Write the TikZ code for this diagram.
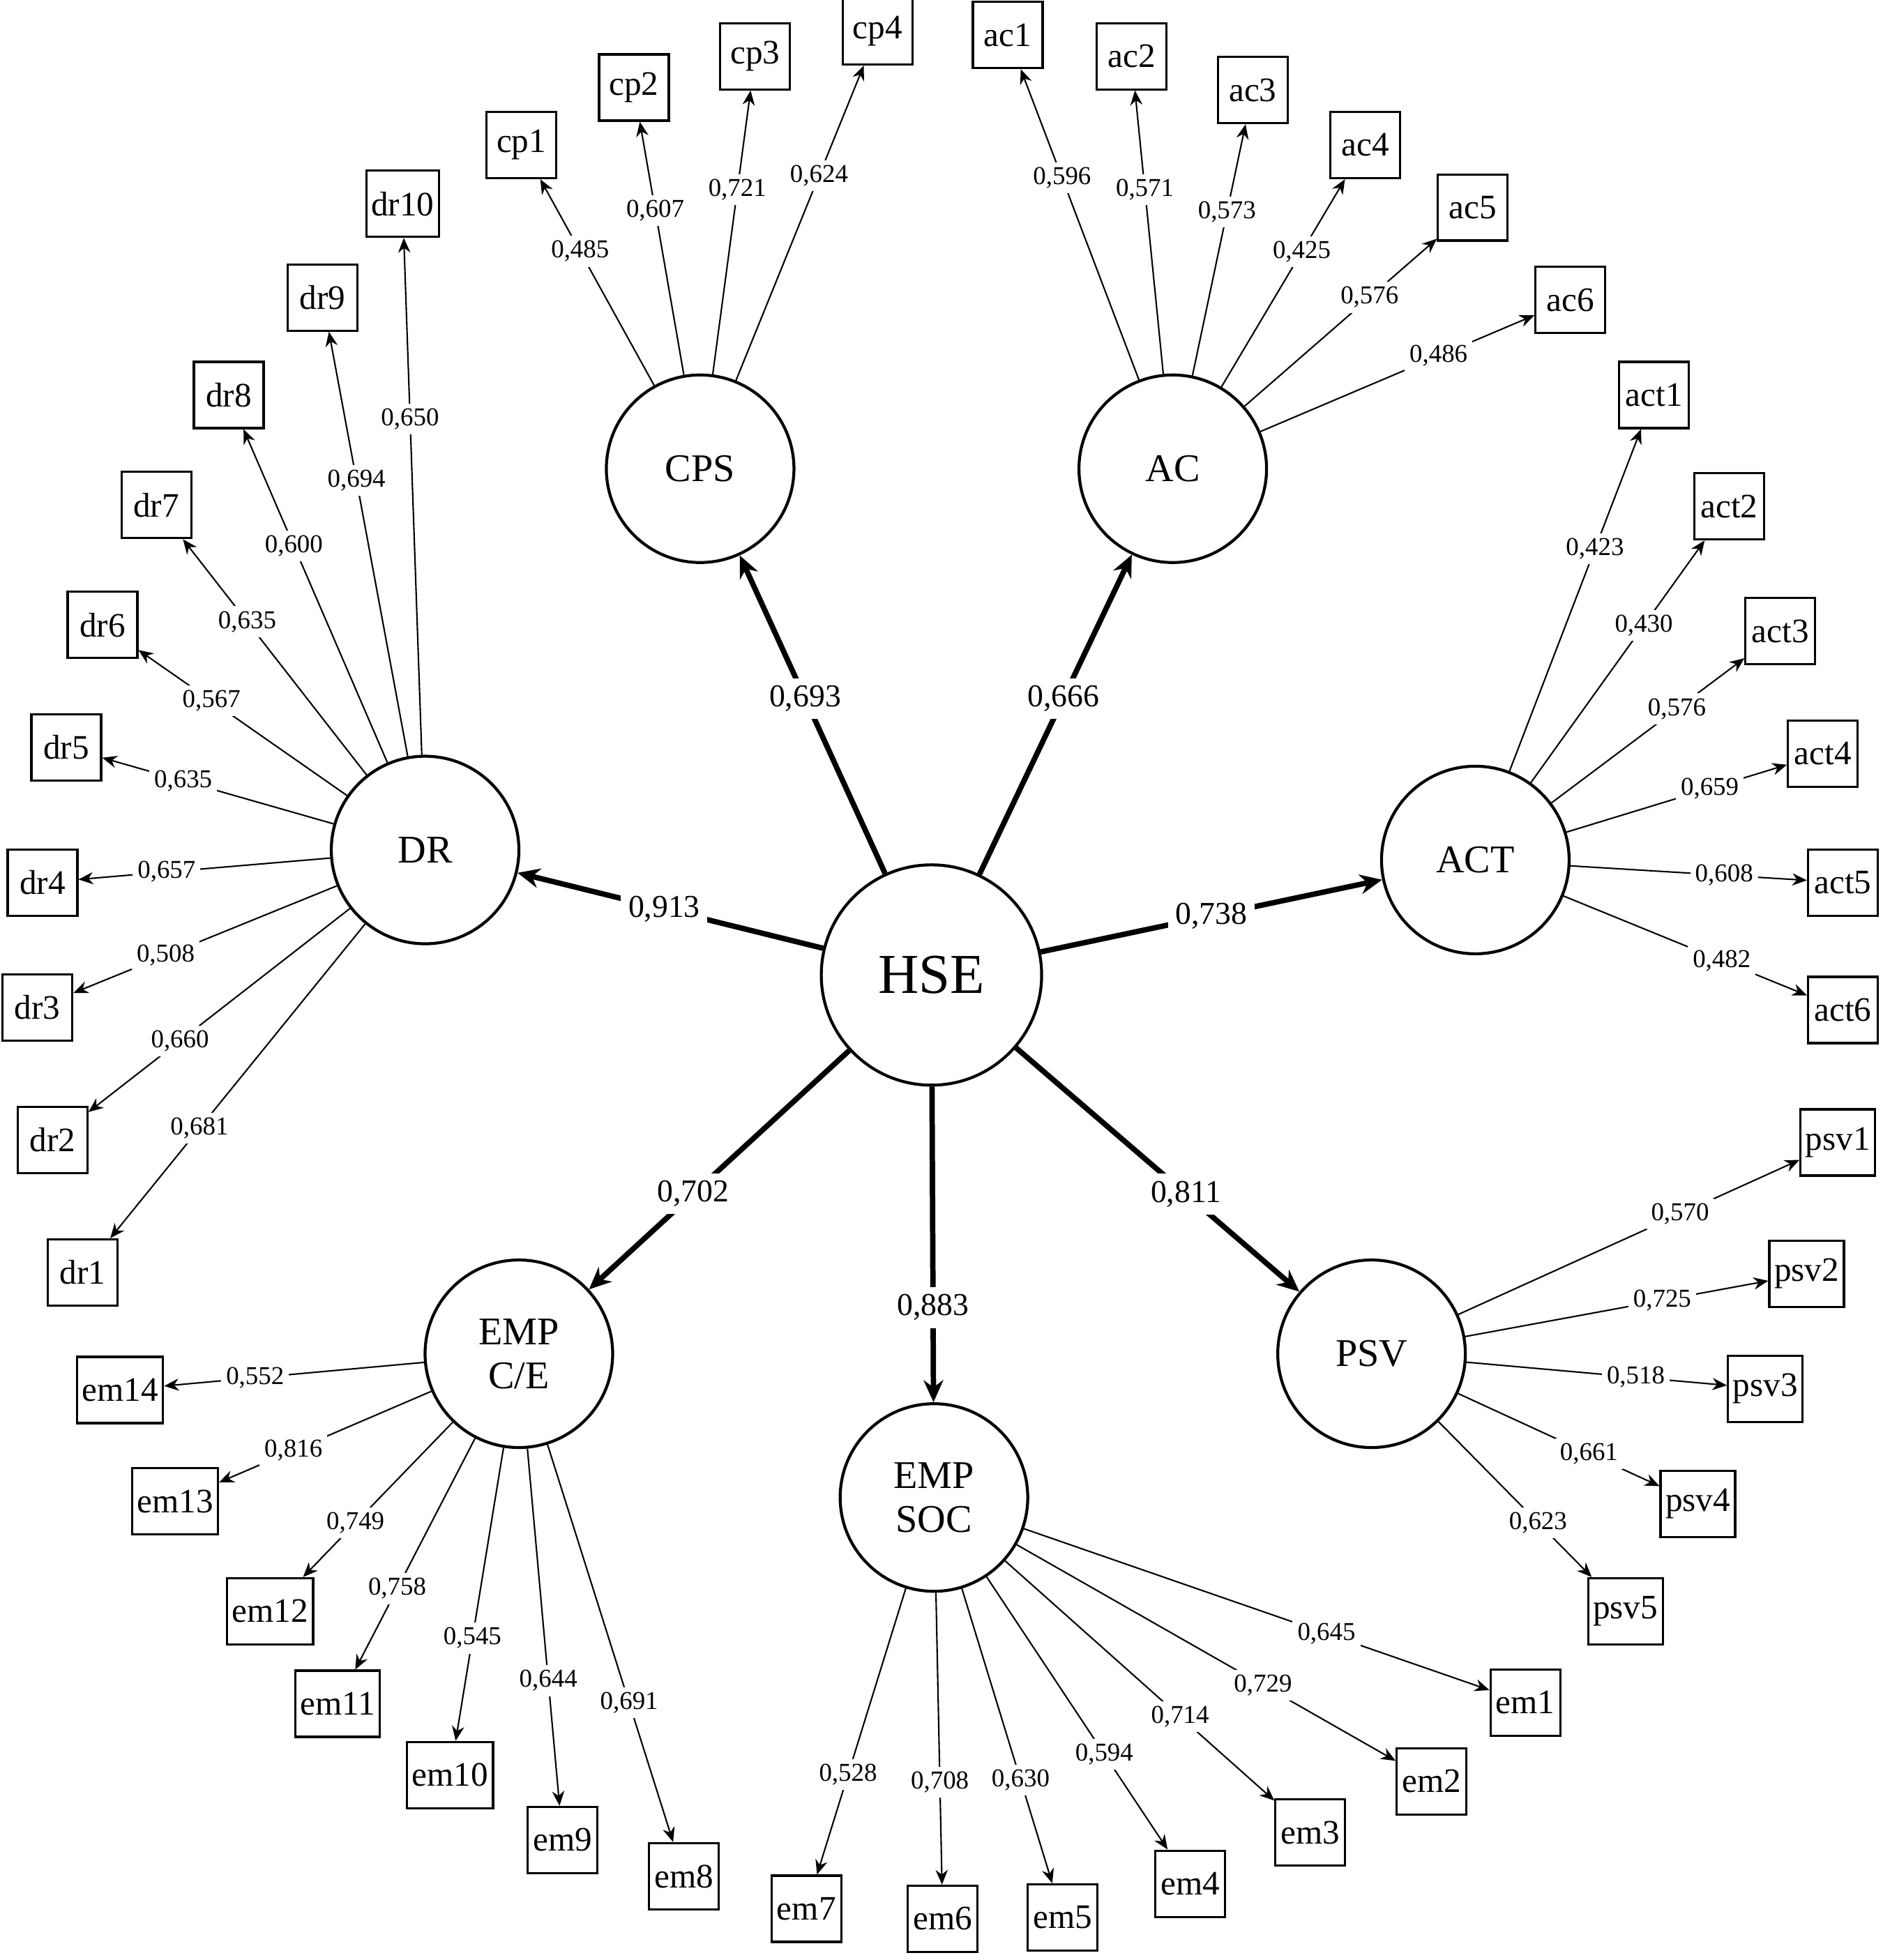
\documentclass[tikz,border=0pt]{standalone}
\usepackage{fontspec}
\setmainfont{Liberation Serif}
\usetikzlibrary{arrows.meta}
\begin{document}
\begin{tikzpicture}[x=0.01793cm,y=-0.01793cm,
  lat/.style={draw,circle,line width=1.2pt,minimum size=2.69cm,font=\fontsize{16}{18}\selectfont,align=center},
  ind/.style={draw,line width=0.9pt,minimum width=1cm,minimum height=0.95cm,inner sep=2pt,font=\fontsize{14}{16}\selectfont},
  main/.style={line width=2.2pt,-{Stealth[length=9pt,width=8pt]}},
  load/.style={line width=0.6pt,-{Stealth[length=6pt,width=5pt]}},
  lab/.style={fill=white,inner sep=2pt,font=\fontsize{10.5}{12}\selectfont},
  mlab/.style={fill=white,inner sep=3pt,font=\fontsize{13}{15}\selectfont}]
   \useasboundingbox (0,0) rectangle (1506,1568);

   % latent variables
   \node[lat,minimum size=3.16cm,font=\fontsize{23}{25}\selectfont] (HSE) at (745,780) {HSE};
   \node[lat] (CPS) at (560,375) {CPS};
   \node[lat] (AC) at (938,375) {AC};
   \node[lat] (DR) at (340,680) {DR};
   \node[lat] (ACT) at (1180,688) {ACT};
   \node[lat] (EMPCE) at (415,1083) {EMP\\C/E};
   \node[lat] (EMPSOC) at (747,1198) {EMP\\SOC};
   \node[lat] (PSV) at (1097,1083) {PSV};

   % structural paths
   \draw[main] (HSE) -- node[mlab,pos=.55]{0,693} (CPS);
   \draw[main] (HSE) -- node[mlab,pos=.55]{0,666} (AC);
   \draw[main] (HSE) -- node[mlab,pos=.52]{0,913} (DR);
   \draw[main] (HSE) -- node[mlab,pos=.5]{0,738} (ACT);
   \draw[main] (HSE) -- node[mlab,pos=.6]{0,702} (EMPCE);
   \draw[main] (HSE) -- node[mlab,pos=.7]{0,883} (EMPSOC);
   \draw[main] (HSE) -- node[mlab,pos=.6]{0,811} (PSV);

   % indicators
   \foreach \n/\x/\y in {cp1/417/116,cp2/507/70,cp3/604/45,cp4/702/25,
     ac1/806/28,ac2/905/45,ac3/1002/72,ac4/1092/116,ac5/1178/166,ac6/1256/240,
     act1/1323/316,act2/1383/405,act3/1424/505,act4/1458/603,act5/1474/706,act6/1474/808,
     psv1/1470/914,psv2/1445/1019,psv3/1412/1111,psv4/1358/1203,psv5/1300/1289,
     em1/1220/1362,em2/1145/1425,em3/1048/1466,em4/952/1507,em5/850/1534,em6/754/1535,em7/645/1527,
     em8/547/1501,em9/450/1472,em10/360/1420,em11/270/1363,em12/216/1289,em13/140/1201,em14/96/1112,
     dr1/66/1018,dr2/42/912,dr3/30/806,dr4/34/706,dr5/53/598,dr6/82/500,dr7/125/404,dr8/183/316,dr9/258/238,dr10/322/163}
     \node[ind] (\n) at (\x,\y) {\n};

   % loadings
   \foreach \f/\n/\v in {CPS/cp1/485,CPS/cp2/607,CPS/cp3/721,CPS/cp4/624,
     AC/ac1/596,AC/ac2/571,AC/ac3/573,AC/ac4/425,AC/ac5/576,AC/ac6/486,
     ACT/act1/423,ACT/act2/430,ACT/act3/576,ACT/act4/659,ACT/act5/608,ACT/act6/482,
     PSV/psv1/570,PSV/psv2/725,PSV/psv3/518,PSV/psv4/661,PSV/psv5/623,
     EMPSOC/em1/645,EMPSOC/em2/729,EMPSOC/em3/714,EMPSOC/em4/594,EMPSOC/em5/630,EMPSOC/em6/708,EMPSOC/em7/528,
     EMPCE/em8/691,EMPCE/em9/644,EMPCE/em10/545,EMPCE/em11/758,EMPCE/em12/749,EMPCE/em13/816,EMPCE/em14/552,
     DR/dr1/681,DR/dr2/660,DR/dr3/508,DR/dr4/657,DR/dr5/635,DR/dr6/567,DR/dr7/635,DR/dr8/600,DR/dr9/694,DR/dr10/650}
     \draw[load] (\f) -- node[lab,pos=.65]{0,\v} (\n);
\end{tikzpicture}
\end{document}
